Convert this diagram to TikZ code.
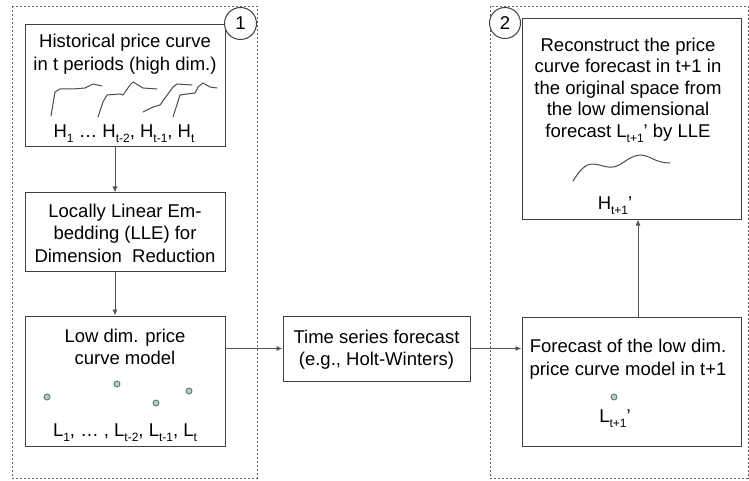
\documentclass[tikz,border=0pt]{standalone}
\usepackage{fontspec}
\setmainfont{Liberation Sans}
\usetikzlibrary{arrows.meta}
\definecolor{boxline}{HTML}{404040}
\definecolor{dashline}{HTML}{606060}
\definecolor{dotfill}{HTML}{B9CCC4}
\definecolor{dotline}{HTML}{5E7F74}
\newcommand\sbs[1]{\raisebox{-0.5ex}{\fontsize{12}{12}\selectfont #1}}
\tikzset{
  frame/.style={draw=dashline, line width=0.9pt, dash pattern=on 2.2pt off 1.8pt},
  stepbox/.style={draw=boxline, line width=1pt, fill=white, rectangle, inner sep=0pt},
  lbl/.style={font=\fontsize{18.5}{22.5}\selectfont, align=center, inner sep=0pt, text=black},
  flow/.style={draw=boxline!90, line width=0.9pt, -{Latex[length=6pt,width=5pt]}},
  curve/.style={draw=black!70, line width=1pt, line cap=round, line join=round},
  pdot/.style={circle, draw=dotline, fill=dotfill, line width=0.9pt, minimum size=6pt, inner sep=0pt},
  numcirc/.style={circle, draw=boxline, fill=white, line width=1pt, minimum size=32pt, inner sep=0pt, font=\fontsize{18.5}{22.5}\selectfont}
}
\begin{document}
\begin{tikzpicture}[x=1pt,y=-1pt]
\useasboundingbox (0,0) rectangle (749,481);
% dashed frames
\draw[frame] (12,6) rectangle (257,478);
\draw[frame] (490,6) rectangle (748,478);
% boxes
\node[stepbox, minimum width=200pt, minimum height=122pt] (b1) at (125,86) {};
\node[stepbox, minimum width=200pt, minimum height=78pt] (b2) at (125,232) {};
\node[stepbox, minimum width=200pt, minimum height=130pt] (b3) at (125,381) {};
\node[stepbox, minimum width=187pt, minimum height=65pt] (tsf) at (376.5,348.5) {};
\node[stepbox, minimum width=219pt, minimum height=200pt] (rt) at (631.5,119) {};
\node[stepbox, minimum width=219pt, minimum height=129pt] (rb) at (631.5,381.5) {};
% number circles
\node[numcirc] (c1) at (240.5,23.5) {1};
\node[numcirc, minimum size=31pt] (c2) at (505,23) {2};
% texts
\node[lbl] (t1) at (125,54) {Historical price curve\\in t periods (high dim.)};
\node[lbl] (t1h) at (124,134) {H\sbs{1} \dots\ H\sbs{t-2}, H\sbs{t-1}, H\sbs{t}};
\node[lbl] (t2) at (125,233) {Locally Linear Em-\\bedding (LLE) for\\Dimension\ \ Reduction};
\node[lbl] (t3) at (125,347) {Low dim. price\\curve model};
\node[lbl] (t3l) at (125,433) {L\sbs{1}, \dots\ , L\sbs{t-2}, L\sbs{t-1}, L\sbs{t}};
\node[lbl] (tt) at (376.5,349.5) {Time series forecast\\(e.g., Holt-Winters)};
\node[lbl, font=\fontsize{18.5}{21.5}\selectfont] (tr) at (628,90) {Reconstruct the price\\curve forecast in t+1 in\\the original space from\\the low dimensional\\forecast L\sbs{t+1}’ by LLE};
\node[lbl] (trh) at (615,206) {H\sbs{t+1}’};
\node[lbl] (tb) at (628,359) {Forecast of the low dim.\\price curve model in t+1};
\node[lbl] (tbl) at (615,419) {L\sbs{t+1}’};
% price curves
\draw[curve] (51,116) -- (55,92) -- (60,89) -- (73,89) -- (85,88) -- (93,84) -- (102,86);
\draw[curve] (98,117) -- (103,102) -- (107,95) -- (120,94) -- (123,95) -- (130,85) -- (133,82) -- (143,88) -- (157,89);
\draw[curve] (143,112) -- (153,107) -- (160,105) -- (165,98) -- (173,87) -- (177,84) -- (192,85);
\draw[curve] (173,117) -- (180,95) -- (187,94) -- (195,93) -- (198,87) -- (203,83) -- (210,87) -- (217,88);
\draw[curve] (573,181) .. controls (580,170) and (585,164) .. (593,164) .. controls (600,164) and (605,168) .. (613,167) .. controls (622,166) and (628,156) .. (640,155) .. controls (650,155) and (655,163) .. (670,163);
% dots
\node[pdot] (d1) at (47,397) {};
\node[pdot] (d2) at (117,384) {};
\node[pdot] (d3) at (156,403) {};
\node[pdot] (d4) at (189,391) {};
\node[pdot] (d5) at (614,397) {};
% connectors
\draw[flow] (b1.south -| 115,0) -- (b2.north -| 115,0);
\draw[flow] (b2.south -| 115,0) -- (b3.north -| 115,0);
\draw[flow] (b3.east |- tsf.west) -- (tsf.west);
\draw[flow] (tsf.east) -- (rb.west |- tsf.east);
\draw[flow] (rb.north -| 638,0) -- (rt.south -| 638,0);
\end{tikzpicture}
\end{document}
